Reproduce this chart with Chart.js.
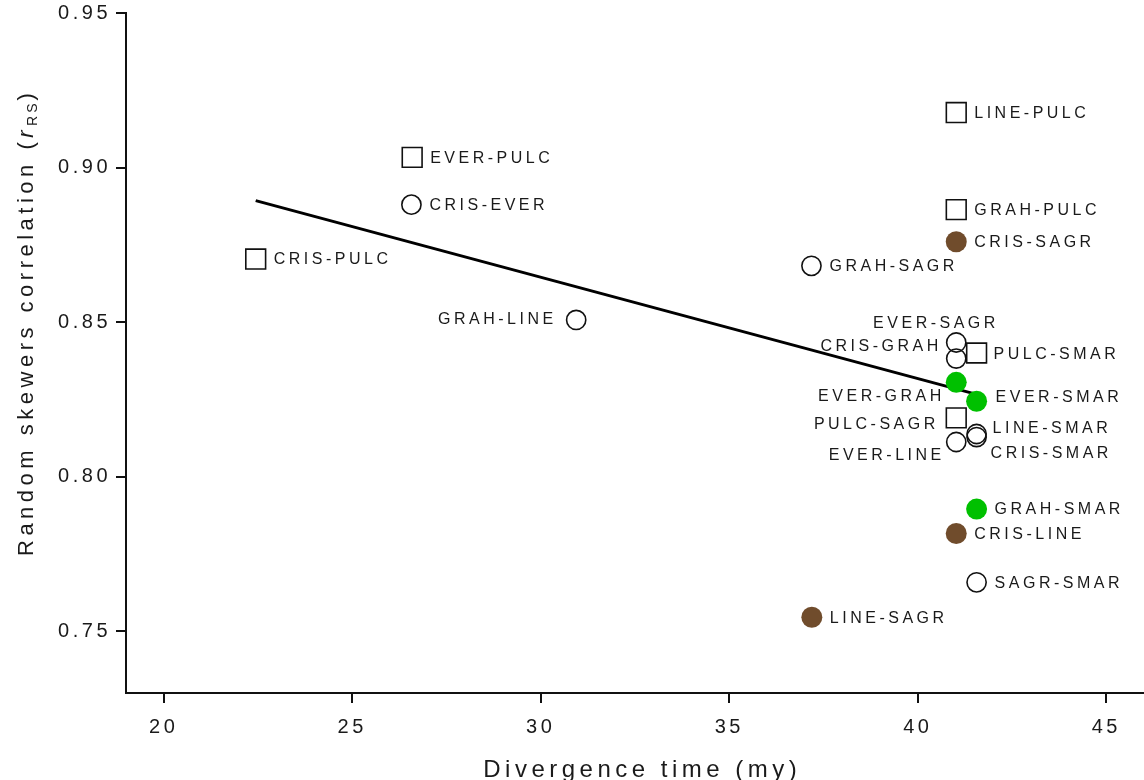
<!DOCTYPE html>
<html>
<head>
<meta charset="utf-8">
<script src="https://cdn.jsdelivr.net/npm/chart.js@4.4.0/dist/chart.umd.min.js"></script>
<style>
html,body{margin:0;padding:0;background:#fff;}
#wrap{width:1144px;height:780px;position:relative;}
</style>
</head>
<body>
<div id="wrap"><canvas id="c" width="1144" height="780"></canvas></div>
<script>
// ---- data ----
const pairs = ['EVER-PULC','CRIS-EVER','CRIS-PULC','GRAH-LINE','GRAH-SAGR','LINE-SAGR','LINE-PULC','GRAH-PULC','CRIS-SAGR','EVER-SAGR','CRIS-GRAH','PULC-SMAR','EVER-GRAH','EVER-SMAR','PULC-SAGR','LINE-SMAR','CRIS-SMAR','EVER-LINE','GRAH-SMAR','CRIS-LINE','SAGR-SMAR'];
const divergenceTime = [26.59,26.57,22.44,30.94,37.18,37.19,41.02,41.02,41.02,41.02,41.02,41.56,41.02,41.56,41.02,41.56,41.56,41.02,41.56,41.02,41.56];
const rRS = [0.9033,0.8880,0.8704,0.8507,0.8682,0.7545,0.9178,0.8864,0.8760,0.8434,0.8382,0.8400,0.8305,0.8244,0.8190,0.8138,0.8128,0.8112,0.7895,0.7816,0.7658];
const markerGroup = ['square','circle','square','circle','circle','brown','square','square','brown','circle','circle','square','green','green','square','circle','circle','circle','green','brown','circle'];
const fitX = [22.44, 41.56];
const fitY = [0.8893, 0.8266];
const xTicks = [20, 25, 30, 35, 40, 45];
const yTicks = [0.75, 0.80, 0.85, 0.90, 0.95];
const xTitle = 'Divergence time (my)';
const yTitleParts = ['Random skewers correlation (', 'r', 'RS', ')'];

// ---- styles ----
const FONT = '"Liberation Sans", Arial, sans-serif';
const TEXT = '#1a1a1a';
const groupStyle = {
  square: {pointStyle: 'rect',   pointRadius: 14,   backgroundColor: 'rgba(0,0,0,0)', borderColor: '#111', borderWidth: 1.6},
  circle: {pointStyle: 'circle', pointRadius: 9.6,  backgroundColor: 'rgba(0,0,0,0)', borderColor: '#111', borderWidth: 1.6},
  brown:  {pointStyle: 'circle', pointRadius: 10.5, backgroundColor: '#704c2c', borderColor: '#704c2c', borderWidth: 0},
  green:  {pointStyle: 'circle', pointRadius: 10.5, backgroundColor: '#00c000', borderColor: '#00c000', borderWidth: 0}
};
// label placement relative to the point: [dx, dy, align]
const labelPlacement = {
  'GRAH-LINE': [-23, 0, 'right'],
  'EVER-SAGR': [-22, -19, 'center'],
  'CRIS-GRAH': [-18, -12, 'right'],
  'PULC-SMAR': [17, 2, 'left'],
  'EVER-GRAH': [-15, 14, 'right'],
  'EVER-SMAR': [19, -4, 'left'],
  'PULC-SAGR': [-21, 7, 'right'],
  'LINE-SMAR': [16, -5, 'left'],
  'CRIS-SMAR': [14, 17, 'left'],
  'EVER-LINE': [-15, 14, 'right']
};
const defaultPlacement = [18, 1, 'left'];

const groupOrder = ['green', 'brown', 'square', 'circle'];
const datasets = groupOrder.map(g => {
  const s = groupStyle[g];
  const pts = [];
  pairs.forEach((p, i) => { if (markerGroup[i] === g) pts.push({x: divergenceTime[i], y: rRS[i], label: p}); });
  return Object.assign({type: 'scatter', label: g, data: pts, order: 1, pointHoverRadius: s.pointRadius}, s);
});
datasets.push({
  type: 'line', label: 'fit', data: fitX.map((x, i) => ({x: x, y: fitY[i]})),
  borderColor: '#000', borderWidth: 3, pointRadius: 0, fill: false, order: 10, tension: 0
});

const spacingPlugin = {
  id: 'spacing',
  beforeDraw(chart) { chart.ctx.letterSpacing = '3.5px'; }
};

const labelsPlugin = {
  id: 'pairLabels',
  afterDatasetsDraw(chart) {
    const ctx = chart.ctx, xs = chart.scales.x, ys = chart.scales.y;
    ctx.save();
    ctx.font = '16px ' + FONT;
    ctx.letterSpacing = '3.5px';
    ctx.fillStyle = TEXT;
    ctx.textBaseline = 'middle';
    pairs.forEach((p, i) => {
      const px = xs.getPixelForValue(divergenceTime[i]);
      const py = ys.getPixelForValue(rRS[i]);
      const pl = labelPlacement[p] || defaultPlacement;
      ctx.textAlign = pl[2];
      let ax = px + pl[0];
      if (pl[2] === 'right') ax += 3.5;
      if (pl[2] === 'center') ax += 1.75;
      ctx.fillText(p, ax, py + pl[1]);
    });
    ctx.restore();
  }
};

const titlesPlugin = {
  id: 'axisTitles',
  afterDraw(chart) {
    const ctx = chart.ctx;
    ctx.save();
    ctx.fillStyle = TEXT;
    // x title
    ctx.font = '24px ' + FONT;
    ctx.letterSpacing = '4.5px';
    ctx.textAlign = 'center';
    ctx.textBaseline = 'alphabetic';
    ctx.fillText(xTitle, 640 + 2.25, 777);
    // y title
    ctx.translate(33, 556);
    ctx.rotate(-Math.PI / 2);
    ctx.textAlign = 'left';
    let x = 0;
    ctx.font = '22px ' + FONT;
    ctx.fillText(yTitleParts[0], x, 0); x += ctx.measureText(yTitleParts[0]).width;
    ctx.font = 'italic 22px ' + FONT;
    ctx.fillText(yTitleParts[1], x, 0); x += ctx.measureText(yTitleParts[1]).width;
    ctx.font = '14px ' + FONT;
    ctx.letterSpacing = '3px';
    ctx.fillText(yTitleParts[2], x, 4); x += ctx.measureText(yTitleParts[2]).width;
    ctx.font = '22px ' + FONT;
    ctx.letterSpacing = '4.5px';
    ctx.fillText(yTitleParts[3], x, 0);
    ctx.restore();
  }
};

new Chart(document.getElementById('c'), {
  data: {datasets: datasets},
  options: {
    responsive: false,
    animation: false,
    devicePixelRatio: 1,
    layout: {autoPadding: false, padding: {left: 0, top: 13, right: 0, bottom: 0}},
    plugins: {legend: {display: false}, tooltip: {enabled: false}},
    scales: {
      x: {
        type: 'linear', min: 19, max: 46,
        afterBuildTicks: s => { s.ticks = xTicks.map(v => ({value: v})); },
        afterFit: s => { s.height = 87; s.paddingLeft = 0; s.paddingRight = 0; },
        border: {display: true, color: '#111', width: 2},
        grid: {display: true, drawOnChartArea: false, drawTicks: true, tickLength: 10, color: '#111', lineWidth: 2},
        ticks: {font: {size: 20, family: FONT}, color: TEXT, padding: 12, maxRotation: 0, autoSkip: false,
                callback: v => String(v)}
      },
      y: {
        type: 'linear', min: 0.73, max: 0.95,
        afterBuildTicks: s => { s.ticks = yTicks.map(v => ({value: v})); },
        afterFit: s => { s.width = 126; s.paddingTop = 0; s.paddingBottom = 0; },
        border: {display: true, color: '#111', width: 2},
        grid: {display: true, drawOnChartArea: false, drawTicks: true, tickLength: 10, color: '#111', lineWidth: 2},
        ticks: {font: {size: 20, family: FONT}, color: TEXT, padding: 5, autoSkip: false,
                callback: v => v.toFixed(2)}
      }
    }
  },
  plugins: [spacingPlugin, labelsPlugin, titlesPlugin]
});
</script>
</body>
</html>
